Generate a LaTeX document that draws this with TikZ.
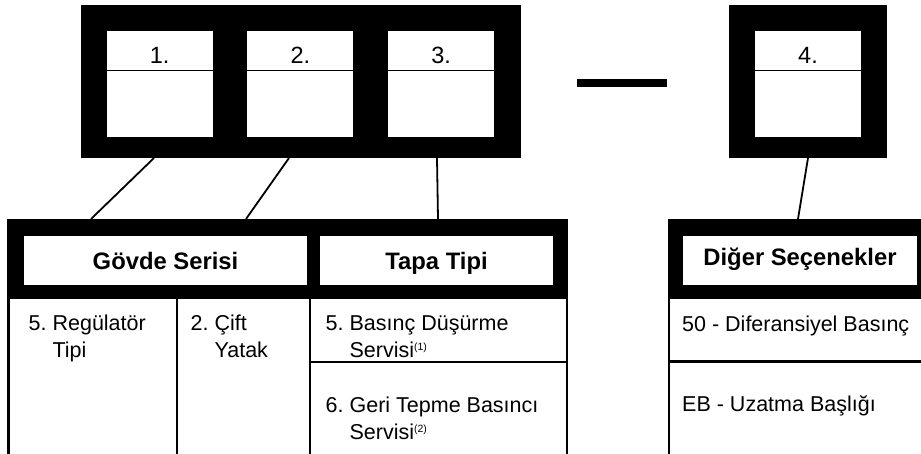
\documentclass[tikz,border=0pt]{standalone}
\usepackage{fontspec}
\setmainfont{Liberation Sans}
% small raised footnote mark
\newcommand{\dipnot}[1]{\raisebox{7pt}{\fontsize{10.5}{10.5}\selectfont(#1)}}
\tikzset{
  cizgi/.style={line width=2.4pt},
  bag/.style={line width=1.8pt},
  numara/.style={anchor=base, inner sep=0pt, font=\fontsize{23.5}{23.5}\selectfont},
  baslik/.style={fill=white, inner sep=0pt, minimum height=49pt, text height=18pt, text depth=0pt,
    font=\bfseries\fontsize{23.8}{23.8}\selectfont},
  madde/.style={anchor=base west, inner sep=0pt, align=left, font=\fontsize{21.5}{27}\selectfont},
}
\begin{document}
\begin{tikzpicture}[x=1pt,y=-1pt]
\useasboundingbox (0,0) rectangle (921,454);
\clip (0,0) rectangle (921,454);
% ---- code boxes ----
\fill (81,5) rectangle (521,158);
\fill (729,5) rectangle (887,158);
\fill (577,79) rectangle (667,87);
\foreach \n/\x in {1/159.7,2/300.3,3/441.2,4/808}{
  \fill[white] (\x-53,31) rectangle (\x+53,137);
  \draw[line width=0.8pt] (\x-53,70) -- (\x+53,70);
  \node[numara] (no\n) at (\x,63.5) {\n.};
}
% ---- left table: body series and plug type ----
\fill (7,219) rectangle (568,299);
\node[baslik, minimum width=283pt] (govde) at (165.5,260.5) {Gövde Serisi};
\node[baslik, minimum width=233pt] (tapa) at (436.5,260.5) {Tapa Tipi};
\foreach \x in {8.5,177,310,567}
  \draw[cizgi] (\x,299) -- (\x,454);
\draw[cizgi] (310,362) -- (567,362);
% two-line entries: anchored on the baseline of the second line
\node[madde] (regulator) at (28.5,357.5) {5.~Regülatör\\\phantom{5.~}Tipi};
\node[madde] (cift) at (190.5,357.5) {2.~Çift\\\phantom{2.~}Yatak};
\node[madde] (dusurme) at (325.5,357.5) {5.~Basınç Düşürme\\\phantom{5.~}Servisi\dipnot{1}};
\node[madde] (tepme) at (325.5,439) {6.~Geri Tepme Basıncı\\\phantom{6.~}Servisi\dipnot{2}};
% ---- right table: other options ----
\fill (668,219) rectangle (930,299);
\node[baslik, minimum width=234pt, text depth=8pt] (diger) at (800,260.5) {Diğer Seçenekler};
\draw[cizgi] (669.2,299) -- (669.2,454);
\draw[cizgi] (669,361.5) -- (921,361.5);
\node[madde] (diferansiyel) at (682,331.5) {50 - Diferansiyel Basınç};
\node[madde] (uzatma) at (682,411.5) {EB - Uzatma Başlığı};
% ---- connectors ----
\coordinate (u1) at (154,158);  \coordinate (t1) at (91,219);
\coordinate (u2) at (289,158);  \coordinate (t2) at (246,219);
\coordinate (u3) at (437,158);  \coordinate (t3) at (438,219);
\coordinate (u4) at (808,158);  \coordinate (t4) at (798,219);
\foreach \i in {1,...,4}
  \draw[bag] (u\i) -- (t\i);
\end{tikzpicture}
\end{document}
